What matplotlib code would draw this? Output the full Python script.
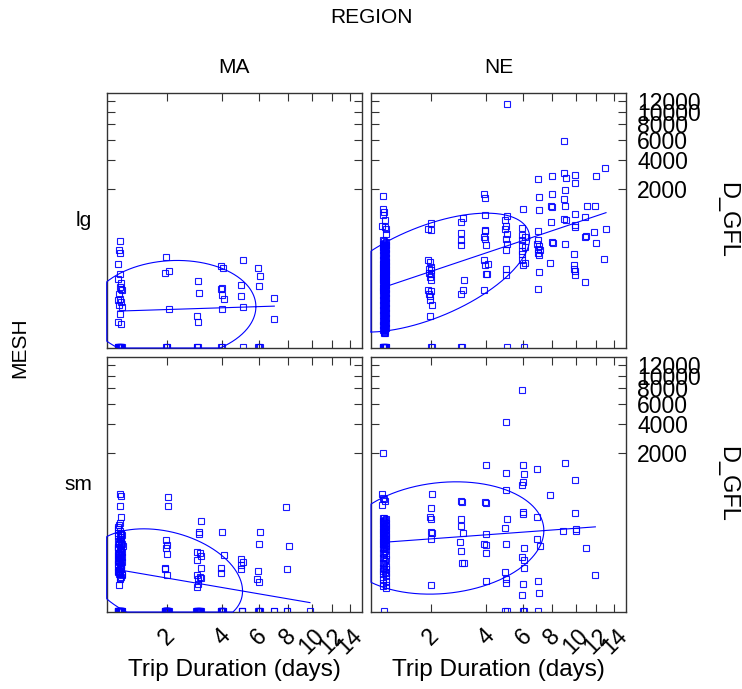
import numpy as np
import matplotlib
matplotlib.use("Agg")
import matplotlib.pyplot as plt

plt.rcParams['font.family'] = ['Liberation Sans', 'DejaVu Sans']

regions = ["MA", "NE"]
meshes = ["lg", "sm"]
x_ticks = [2, 4, 6, 8, 10, 12, 14]
y_ticks = [2000, 4000, 6000, 8000, 10000, 12000]
x_range = [0.7985, 15.43]
y_range = [-1.3e-5, 13636]

# ---- MA / lg ----
ma_lg_days = [1.0, 0.98, 0.99, 0.96, 1.0, 0.97, 1.01, 0.99, 1.02, 1.03, 0.98, 1.0, 0.97, 1.02, 0.98, 1.03, 1.0, 0.97, 1.02,
              0.96, 0.98, 1.0, 1.02, 0.97, 0.99, 1.01, 1.03, 0.98, 1.0, 0.96, 1.02,
              1.97, 1.95, 2.05, 2.05, 1.97, 2.0, 2.02,
              3.0, 3.05, 2.95, 3.0, 2.95, 3.0, 2.97,
              3.95, 4.05, 4.0, 3.93, 4.0, 4.08, 4.0, 3.95, 4.0,
              5.05, 4.95, 4.95, 5.05, 5.05,
              5.95, 6.05, 5.97, 5.93, 6.05, 6.0,
              7.0, 7.0]
ma_lg_gfl = [408, 282, 252, 155, 93, 70, 55, 41, 37, 33, 26, 17, 15, 12.8, 9.4, 8, 3.8, 1.2, 0.9,
             0, 0, 0, 0, 0, 0, 0, 0, 0, 0, 0, 0,
             211, 96, 105, 6.3, 0, 0, 0,
             59, 28, 2.7, 1.25, 0, 0, 0,
             136, 125, 39.5, 37, 22.5, 16.7, 6.8, 0, 0,
             188, 47, 21, 8, 0,
             125, 81, 44, 0, 0, 0,
             18, 1.8]

# ---- MA / sm ----
ma_sm_days = [1.0, 1.01, 1.0, 1.02, 1.0, 0.98, 0.97, 1.0, 1.02, 0.97, 1.0, 1.01, 0.98, 1.01, 0.97, 1.0,
              1.02, 0.98, 0.96, 1.0, 1.02, 0.98, 0.97, 1.0, 1.01, 0.97, 1.0, 0.98, 1.01, 1.0, 0.98,
              0.97, 1.02, 0.99, 1.03, 0.96, 1.01, 0.98, 1.03, 0.97, 1.02, 0.99, 0.96, 1.03, 1.0,
              0.97, 1.03, 0.99, 1.01, 0.96, 1.02, 0.98, 1.04, 0.97, 1.01, 0.99, 1.03, 0.96,
              1.02, 0.98, 1.0, 0.97, 1.03, 0.99, 1.01, 0.96, 1.02, 0.98, 1.0, 1.03,
              0.96, 0.98, 1.0, 1.02, 0.97, 0.99, 1.01, 1.03, 0.98, 1.0, 0.96, 1.02,
              0.97, 0.99, 1.01, 1.0, 0.98, 0.97, 0.99, 1.01, 1.03, 1.0, 0.98,
              2.04, 2.04, 1.97, 2.02, 1.99, 2.0, 1.95, 1.95, 2.01, 1.98, 2.0, 2.02, 1.99,
              1.95, 1.97, 1.99, 2.01, 2.03, 2.05, 1.96, 1.98, 2.0, 2.02, 2.04, 1.95, 1.97, 1.99,
              2.01, 2.03, 1.96, 1.98, 2.0, 2.02,
              3.1, 3.05, 3.05, 2.97, 3.08, 3.12, 2.95, 3.1, 2.95, 3.08, 3.12, 3.0, 3.0, 2.97,
              2.95, 3.0, 3.05, 3.1, 2.97, 3.02, 3.07, 2.93, 2.98, 3.03, 3.08, 2.96, 3.01, 3.06,
              4.0, 4.08, 3.95, 3.97, 3.95, 4.0, 4.05, 3.97, 4.02, 3.98, 4.03, 4.0, 3.96,
              4.93, 5.05, 4.93, 4.95, 5.0, 5.0, 5.0,
              6.05, 5.97, 5.9, 5.85, 5.97, 5.95, 6.05, 5.97, 6.0, 6.0,
              6.95, 6.95,
              7.85, 8.05, 7.9, 7.95, 7.95,
              9.85]
ma_sm_gfl = [601, 567, 393, 252, 197, 179, 143, 131, 121, 101, 88, 77, 67, 59, 55, 48,
             43, 37, 30.5, 25.7, 22.5, 18.1, 15, 11.7, 9.4, 7.5, 6.75, 5.6, 4.3, 3.4, 1.5,
             160, 111, 84, 63, 51, 40, 33, 27, 20, 13, 10, 8, 5, 3.8,
             118, 106, 95, 86, 79, 72, 65, 58, 53, 47, 42, 38, 34,
             31, 28, 25, 22, 19, 16.5, 14, 12, 10.3, 8.7, 7, 5.9,
             0, 0, 0, 0, 0, 0, 0, 0, 0, 0, 0, 0,
             0, 0, 0, 0, 0, 0, 0, 0, 0, 0, 0,
             555, 393, 80, 60.5, 51, 33, 11.1, 9.4, 5.4, 0, 0, 0, 0,
             0, 0, 0, 0, 0, 0, 0, 0, 0, 0, 0, 0, 0, 0,
             0, 0, 0, 0, 0, 0,
             208, 125, 111, 38, 37, 29, 20.8, 11.1, 5.2, 4.3, 3.8, 3.1, 1.7, 1.06,
             0, 0, 0, 0, 0, 0, 0, 0, 0, 0, 0, 0, 0, 0,
             127, 30.5, 11.1, 6.3, 0, 0, 0, 0, 0, 0, 0, 0, 0,
             22.5, 18.1, 14.5, 9.4, 0, 0, 0,
             127, 64, 7.7, 3.4, 2.15, 0, 0, 0, 0, 0,
             0, 0,
             378, 57, 9.4, 0, 0,
             0]

# ---- NE / lg ----
ne_lg_days = [0.97, 0.98, 1.0, 0.97, 1.01, 0.96, 1.01, 1.02, 1.02,
              0.97, 1.03, 0.98, 1.02, 0.97, 1.03, 0.98, 1.02, 0.97, 1.03, 0.98, 1.02, 0.97, 1.03, 0.98,
              1.02, 0.97, 1.03, 0.98, 1.02, 0.97, 1.03, 0.98, 1.02, 0.97, 1.03, 0.98, 1.02, 0.97, 1.03,
              0.98, 1.02, 0.97, 1.03, 0.98, 1.02, 0.97, 1.03, 0.98, 1.02, 0.97, 1.03, 0.98, 1.02, 0.97,
              1.0, 1.01, 0.99, 1.0, 1.01, 0.99, 1.0, 1.01, 0.99, 1.0, 1.01, 0.99, 1.0, 1.01, 0.99,
              1.0, 1.01, 0.99, 1.0, 1.01, 0.99, 1.0, 1.01, 0.99, 1.0, 1.01, 0.99, 1.0, 1.01, 0.99,
              1.0, 1.01, 0.99, 1.0, 1.01, 0.99, 1.0, 1.01, 0.99, 1.0, 1.01, 0.99, 1.0, 1.01, 0.99,
              0.985, 0.985, 0.985, 0.985, 0.985, 0.985, 0.985, 0.985, 0.985, 0.985,
              0.985, 0.985, 0.985, 0.985, 0.985, 0.985, 0.985, 0.985, 0.985, 0.985,
              0.985, 0.985, 0.985, 0.985, 0.985, 0.985, 0.985, 0.985, 0.985, 0.985,
              0.985, 0.985, 0.985, 0.985, 0.985, 0.985, 0.985, 0.985, 0.985, 0.985,
              0.985, 0.985, 0.985, 0.985, 0.985, 0.985, 0.985, 0.985, 0.985, 0.985,
              1.015, 1.015, 1.015, 1.015, 1.015, 1.015, 1.015, 1.015, 1.015, 1.015,
              1.015, 1.015, 1.015, 1.015, 1.015, 1.015, 1.015, 1.015, 1.015, 1.015,
              1.015, 1.015, 1.015, 1.015, 1.015, 1.015, 1.015, 1.015, 1.015, 1.015,
              1.015, 1.015, 1.015, 1.015, 1.015, 1.015, 1.015, 1.015, 1.015, 1.015,
              1.015, 1.015, 1.015, 1.015, 1.015, 1.015, 1.015, 1.015, 1.015, 1.015,
              0.995, 1.005, 0.995, 1.005, 0.995, 1.005, 0.995, 1.005, 0.995, 1.005,
              0.995, 1.005, 0.995, 1.005, 0.995, 1.005, 0.995, 1.005, 0.995, 1.005,
              0.995, 1.005, 0.995, 1.005, 0.995, 1.005, 0.995, 1.005, 0.995, 1.005,
              0.995, 1.005, 0.995, 1.005, 0.995, 1.005, 0.995,
              0.97, 0.98, 0.99, 1.0, 1.01, 1.02, 1.03, 0.975, 0.995, 1.015,
              2.0, 1.93, 2.0, 1.93, 1.97, 2.0, 1.95, 1.99, 1.95, 2.0, 1.97, 1.99, 1.93, 1.99, 1.95, 1.97,
              1.96, 2.02, 1.96, 2.0, 2.02,
              3.02, 2.95, 2.97, 2.95, 2.95, 3.08, 3.02, 2.97, 2.97, 3.0,
              3.9, 3.92, 3.92, 3.93, 3.95, 3.91, 3.93, 3.97, 3.91, 4.07, 3.95, 4.02, 4.0, 3.91,
              5.05, 5.05, 4.93, 5.01, 4.93, 5.05, 5.01, 5.05, 5.01, 5.01, 4.98, 5.03,
              6.0, 5.93, 5.88, 6.08, 5.93, 5.88, 6.08, 5.93, 5.9, 5.88, 6.08, 6.0, 6.05,
              6.93, 7.0, 7.03, 6.93, 6.97, 6.9, 7.03, 6.97, 7.1, 6.97, 7.0, 7.05, 6.93,
              7.95, 8.0, 7.9, 8.0, 7.9, 7.95, 8.05, 7.85,
              8.95, 8.92, 9.1, 9.05, 8.92, 9.05, 8.92, 9.1, 9.0,
              9.95, 9.95, 9.95, 9.9, 9.88, 9.85, 9.85, 9.85, 9.88, 9.88,
              11.05, 10.9, 10.95, 10.85, 10.9,
              11.95, 11.9, 11.8, 12.0,
              12.95, 13.05, 12.85]
ne_lg_gfl = [1693, 1191, 1080, 976, 836, 688, 672, 636, 535,
             419, 393, 369, 345, 323, 303, 282, 256, 228, 206, 182, 168, 155, 143, 131,
             121, 111, 101, 93, 84.5, 77, 70, 63, 57, 53.5, 46, 39.5, 37, 33, 27,
             22.5, 18.8, 15, 11.7, 9.4, 7.5, 5.6, 4.1, 3.1, 2.3, 1.5, 1.0, 0.66, 0.41, 0.22,
             410, 380, 355, 335, 310, 290, 270, 240, 215, 195, 175, 160, 148, 136, 126,
             116, 106, 97, 88, 80, 73, 66, 60, 50, 43, 35, 30, 24, 20, 17,
             13, 10.5, 8.5, 6.5, 4.8, 3.6, 2.7, 1.9, 1.2, 0.8, 0.5, 0.3, 0.15, 0.12, 0.1,
             342, 320, 297, 277, 259, 239, 222, 206, 189, 176,
             162, 148, 137, 126, 114, 105, 96, 87, 79, 72,
             65, 58, 52, 47, 42, 37, 33, 29.5, 25.6, 22.6,
             19.8, 17, 14.8, 12.8, 10.7, 9.2, 7.8, 6.4, 5.3, 4.4,
             3.5, 2.9, 2.3, 1.75, 1.36, 1.04, 0.78, 0.55, 0.39, 0.27,
             332, 308, 287, 268, 249, 230, 214, 198, 182, 169,
             155, 142, 131, 120, 110, 100, 92, 83, 75, 68,
             61, 55, 50, 44, 40, 35, 31, 27.5, 24, 21,
             18.4, 16, 13.8, 11.8, 10, 8.5, 7.1, 5.9, 4.8, 3.9,
             3.2, 2.6, 2.0, 1.55, 1.2, 0.9, 0.66, 0.47, 0.33, 0.2,
             240, 215, 190, 170, 150, 135, 120, 108, 97, 87,
             78, 70, 62, 55, 49, 44, 39, 35, 31, 28,
             25, 22, 19.5, 17.5, 15.5, 13.5, 12, 10.5, 9, 8,
             7, 6, 5.3, 4.6, 4, 3.5, 3,
             0, 0, 0, 0, 0, 0, 0, 0, 0, 0,
             767, 636, 615, 182, 168, 131, 121, 111, 96, 89, 77, 66, 34, 31, 25.7, 20.8,
             15, 9.4, 3.0, 0, 0,
             900, 793, 547, 419, 350, 63, 34, 25.7, 0, 0,
             1802, 1620, 987, 615, 580, 474, 447, 355, 182, 155, 143, 93, 89, 34,
             11300, 947, 854, 688, 636, 535, 447, 369, 282, 121, 88, 0,
             1191, 650, 504, 474, 419, 345, 323, 274, 245, 182, 160, 143, 0,
             2559, 1648, 1135, 586, 430, 359, 332, 303, 282, 252, 228, 101, 37,
             2769, 1802, 1299, 1250, 793, 393, 378, 160,
             5851, 2949, 2661, 1997, 1562, 1274, 881, 836, 369,
             2856, 2359, 1028, 711, 672, 245, 143, 121, 107, 86,
             1274, 928, 486, 474, 57,
             2789, 1274, 566, 378,
             3327, 636, 190]

# ---- NE / sm ----
ne_sm_days = [0.97, 0.96, 0.98, 0.99, 1.01, 0.96,
              0.97, 1.03, 0.98, 1.02, 0.97, 1.03, 0.98, 1.02, 0.97, 1.03, 0.98, 1.02, 0.97,
              1.03, 0.98, 1.02, 0.97, 1.03, 0.98, 1.02, 0.97, 1.03, 0.98, 1.02, 0.97, 1.03,
              0.98, 1.02, 0.97, 1.03, 0.98, 1.02, 0.97, 1.03, 0.98, 1.02, 0.97, 1.03,
              1.0, 1.01, 0.99, 1.0, 1.01, 0.99, 1.0, 1.01, 0.99, 1.0, 1.01, 0.99, 1.0,
              1.01, 0.99, 1.0, 1.01, 0.99, 1.0, 1.01, 0.99, 1.0, 1.01, 0.99, 1.0, 1.01,
              0.99,
              2.03, 2.0, 1.97, 1.99, 1.99, 2.03, 2.0, 2.0,
              2.95, 3.0, 2.97, 2.95, 3.03, 2.92, 2.95, 3.0, 3.05,
              3.97, 3.95, 3.97, 3.97, 3.91, 3.97, 4.0, 3.97,
              5.01, 5.0, 4.97, 5.03, 4.95, 4.97, 4.93, 5.0, 5.01, 5.03, 4.95,
              5.88, 5.97, 6.05, 5.95, 5.93, 5.95, 5.97, 6.05, 5.93, 6.02, 6.02, 5.95, 5.93, 6.02, 5.95,
              6.9, 6.9, 6.9, 7.1, 6.95, 7.05, 6.95,
              7.85,
              9.05, 8.9,
              9.9, 9.9, 10.0, 10.0,
              11.0,
              11.9]
ne_sm_gfl = [2049, 601, 534, 504, 474, 404,
             245, 228, 211, 197, 182, 168, 155, 143, 131, 121, 111, 101, 93,
             84.5, 77, 70, 63, 57, 51, 46, 37, 30.5, 25.7, 22.5, 17.3, 12.8,
             11.1, 9.4, 8.0, 6.75, 5.6, 4.6, 3.4, 2.5, 2.0, 1.5, 1.2, 0.88,
             238, 220, 204, 190, 175, 162, 149, 137, 126, 116, 106, 97, 89,
             81, 73, 66, 60, 54, 48, 42, 34, 28, 20, 15, 10, 7,
             0,
             615, 369, 256, 228, 125, 117, 84.5, 1.5,
             480, 463, 228, 168, 121, 72, 41, 17.3, 16.3,
             1466, 457, 447, 115, 66, 59, 37, 2.5,
             4110, 1191, 695, 228, 152, 63, 7.5, 3.1, 1.8, 0, 0,
             7760, 1466, 1146, 899, 828, 310, 282, 51, 27.7, 21.3, 11.1, 1.7, 0.19, 0, 0,
             1311, 256, 88, 57, 2.4, 0.28, 0,
             586,
             1577, 131,
             956, 303, 148, 131,
             49,
             5.2]

panel_data = {("MA", "lg"): (ma_lg_days, ma_lg_gfl),
              ("MA", "sm"): (ma_sm_days, ma_sm_gfl),
              ("NE", "lg"): (ne_lg_days, ne_lg_gfl),
              ("NE", "sm"): (ne_sm_days, ne_sm_gfl)}


def root4(v):
    v = np.asarray(v, dtype=float)
    return np.sign(v) * np.abs(v) ** 0.25


def pow4(t):
    t = np.asarray(t, dtype=float)
    return np.sign(t) * np.abs(t) ** 4


blue = "#0000ff"
ell_k = 1.5

fig = plt.figure(figsize=(7.42, 6.89), dpi=100)
W, H = 742.0, 689.0
col_left = [106.7, 371.0]
col_w = 255.0
row_top = [92.7, 356.7]
row_h = 255.3

for r, mesh in enumerate(meshes):
    for c, region in enumerate(regions):
        ax = fig.add_axes([col_left[c] / W, 1 - (row_top[r] + row_h) / H, col_w / W, row_h / H])
        ax.set_xscale('function', functions=(root4, pow4))
        ax.set_yscale('function', functions=(root4, pow4))
        ax.set_xlim(x_range)
        ax.set_ylim(y_range)

        days, gfl = panel_data[(region, mesh)]
        days = np.array(days, dtype=float)
        gfl = np.array(gfl, dtype=float)
        ax.plot(days, gfl, 's', ms=3.8, mfc='none', mec=blue, mew=0.8, alpha=0.9)

        # regression line in transformed space
        tx, ty = root4(days), root4(gfl)
        slope, icpt = np.polyfit(tx, ty, 1)
        lx = np.array([tx.min(), tx.max()])
        ax.plot(pow4(lx), pow4(icpt + slope * lx), color=blue, lw=0.8)

        # data ellipse, clamped to the panel
        mu = np.array([tx.mean(), ty.mean()])
        L = np.linalg.cholesky(np.cov(tx, ty))
        th = np.linspace(0, 2 * np.pi, 400)
        e = mu[:, None] + ell_k * L @ np.vstack([np.cos(th), np.sin(th)])
        ex = np.clip(e[0], root4(x_range[0]), root4(x_range[1]))
        ey = np.clip(e[1], root4(y_range[0]), root4(y_range[1]))
        ax.plot(pow4(ex), pow4(ey), color=blue, lw=0.8, zorder=3, clip_on=False)

        ax.set_xticks(x_ticks)
        ax.set_yticks(y_ticks)
        ax.xaxis.set_minor_locator(plt.NullLocator())
        ax.yaxis.set_minor_locator(plt.NullLocator())
        ax.set_xticklabels([str(v) for v in x_ticks], rotation=45)
        ax.set_yticklabels([str(v) for v in y_ticks])
        ax.tick_params(direction='in', top=True, right=True, length=6, width=0.8,
                       labelsize=16.5, color='#333333')
        ax.tick_params(axis='x', pad=9, labelbottom=(r == 1))
        ax.tick_params(axis='y', pad=8, labelleft=False, labelright=(c == 1))
        for sp in ax.spines.values():
            sp.set_linewidth(1.0)
            sp.set_color('#333333')

# labels
fig.text(371 / W, 1 - 17.5 / H, "REGION", ha='center', va='center', fontsize=15)
for c, region in enumerate(regions):
    cx = (col_left[c] + col_w / 2) / W
    fig.text(cx, 1 - 67.5 / H, region, ha='center', va='center', fontsize=15)
    fig.text(cx, 1 - 670 / H, "Trip Duration (days)", ha='center', va='center', fontsize=17.5)
fig.text(20 / W, 1 - 348 / H, "MESH", ha='center', va='center', rotation=90, fontsize=15)
for r, mesh in enumerate(meshes):
    cy = 1 - (row_top[r] + row_h / 2) / H
    fig.text(92 / W, cy, mesh, ha='right', va='center', fontsize=15)
    fig.text(727 / W, cy, "D_GFL", ha='center', va='center', rotation=-90, fontsize=17)

fig.savefig("out.png", dpi=100, facecolor='white')
